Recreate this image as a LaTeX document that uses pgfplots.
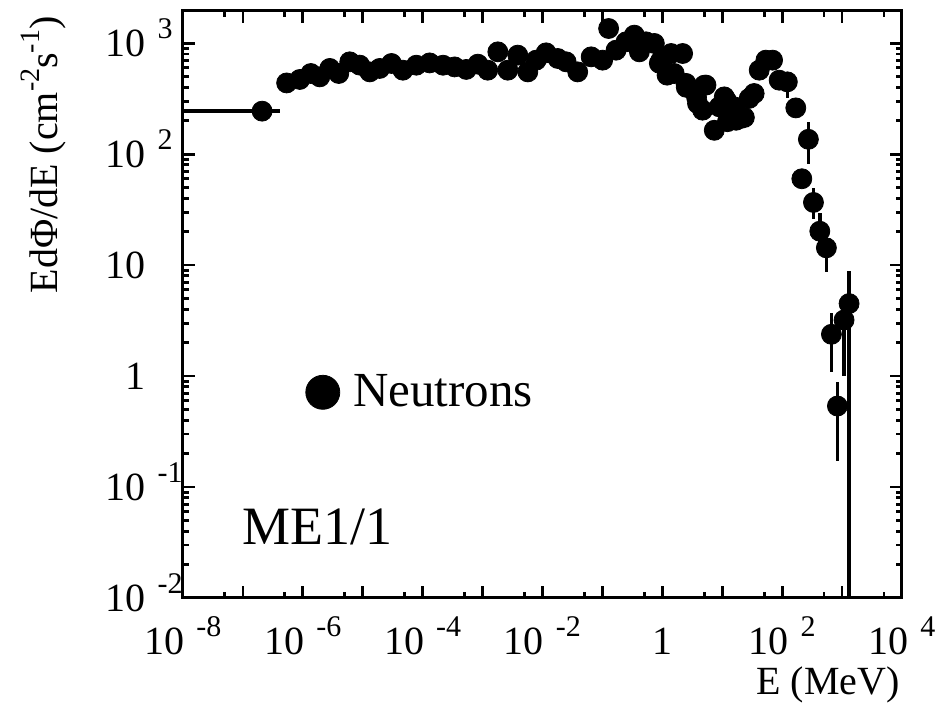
\documentclass[border=0pt]{standalone}
\usepackage{fontspec}
\setmainfont{Liberation Serif}
\usepackage{pgfplots}
\usepackage{pgfplotstable}
\pgfplotsset{compat=1.18}
\newcommand{\tpx}[1]{10\hspace{0.3em}\raisebox{0.45em}{\fontsize{15}{15}\selectfont #1}}
\newcommand{\tpy}[1]{10\smash{\rlap{\hspace{0.3em}\raisebox{0.45em}{\fontsize{15}{15}\selectfont #1}}}}
\newcommand{\sups}[1]{\raisebox{0.45em}{\fontsize{14}{14}\selectfont #1}}

\pgfplotstableread{
x y ep em xp xm
2.09e-7 244 0 0 2.0e-7 2.08e-7
5.37e-7 438 0 0 0 0
8.9e-7 471 0 0 0 0
1.36e-6 533 0 0 0 0
1.92e-6 497 0 0 0 0
2.82e-6 592 0 0 0 0
3.98e-6 533 0 0 0 0
6.07e-6 679 0 0 0 0
8.9e-6 634 0 0 0 0
1.31e-5 551 0 0 0 0
1.92e-5 592 0 0 0 0
3.02e-5 656 0 0 0 0
4.68e-5 571 0 0 0 0
7.85e-5 633 0 0 0 0
1.31e-4 664 0 0 0 0
2.19e-4 633 0 0 0 0
3.41e-4 611 0 0 0 0
5.35e-4 580 0 0 0 0
8.36e-4 647 0 0 0 0
1.22e-3 571 0 0 0 0
1.80e-3 835 0 0 0 0
2.64e-3 571 0 0 0 0
3.87e-3 780 0 0 0 0
5.69e-3 551 0 0 0 0
7.85e-3 703 0 0 0 0
1.15e-2 818 0 0 0 0
1.80e-2 728 0 0 0 0
2.48e-2 679 0 0 0 0
3.87e-2 551 0 0 0 0
6.49e-2 753 0 0 0 0
0.101 703 0 0 0 0
0.127 1356 0 0 0 0
0.169 865 0 0 0 0
0.248 1028 0 0 0 0
0.341 1181 0 0 0 0
0.414 835 0 0 0 0
0.535 1028 0 0 0 0
0.736 994 0 0 0 0
0.891 660 0 0 0 0
0.951 703 0 0 0 0
1.20 515 0 0 0 0
1.40 807 0 0 0 0
1.58 533 0 0 0 0
2.18 807 0 0 0 0
2.48 434 0 0 0 0
2.51 400 0 0 0 0
3.72 326 0 0 0 0
3.87 286 50 45 0 0
5.01 418 0 0 0 0
5.35 419 80 0 0 0
4.70 249 0 0 0 0
7.36 164 0 0 0 0
8.91 267 0 0 0 0
11.7 306 0 0 0 0
12.2 196 0 0 0 0
10.8 328 60 0 0 0
15.8 267 0 50 0 0
17.0 202 0 0 0 0
20.5 210 0 0 0 0
23.4 214 0 0 0 0
28.2 318 0 0 0 0
34.1 352 0 0 0 0
41.4 571 0 0 0 0
53.5 703 0 0 0 0
69.2 703 0 0 0 0
89.1 464 0 60 0 0
122 448 60 130 0 0
169 261 0 0 0 0
213 60 0 0 0 0
274 136 60 55 0 0
333 36.7 12.7 10.8 0 0
425 20.2 9.2 5 0 0
547 14.3 3 5.65 0 0
664 2.38 1.32 1.29 0 0
836 0.537 0.35 0.364 0 0
1079 3.2 0.35 2.2 0 0
1309 4.5 4.4 4.499 0 0
}\neutrons

\begin{document}
\begin{tikzpicture}
\useasboundingbox (-91.5pt,-53pt) rectangle (380pt,299pt);
\begin{axis}[
  at={(0pt,0pt)}, anchor=south west,
  scale only axis, width=359.5pt, height=293.5pt,
  xmode=log, ymode=log,
  xmin=1e-8, xmax=1e4, ymin=1e-2, ymax=1950,
  xtick={1e-8,1e-7,1e-6,1e-5,1e-4,1e-3,1e-2,1e-1,1,10,100,1000,1e4},
  xticklabels={\tpx{-8},,\tpx{-6},,\tpx{-4},,\tpx{-2},,1,,\tpx{2},,\tpx{4}},
  minor xtick={5e-8,5e-7,5e-6,5e-5,5e-4,5e-3,5e-2,5e-1,5,50,500,5000},
  ytick={1e-2,1e-1,1,10,100,1000},
  yticklabels={\tpy{-2},\tpy{-1},1,10,\tpy{2},\tpy{3}},
  minor ytick={0.02,0.03,0.04,0.05,0.06,0.07,0.08,0.09,
    0.2,0.3,0.4,0.5,0.6,0.7,0.8,0.9,
    2,3,4,5,6,7,8,9,
    20,30,40,50,60,70,80,90,
    200,300,400,500,600,700,800,900},
  tick align=inside,
  major tick length=6pt, minor tick length=3pt,
  tick style={black, line width=1.4pt},
  axis line style={line width=1.5pt},
  tick label style={font=\fontsize{20}{24}\selectfont},
  xticklabel style={anchor=base, yshift=-28.5pt},
  yticklabel style={anchor=east, inner sep=0pt, xshift=-18.5pt},
  xlabel={E (MeV)},
  xlabel style={at={(axis description cs:1,0)}, anchor=base east, inner sep=0pt, yshift=-48.5pt, xshift=-1pt, font=\fontsize{20}{24}\selectfont},
  ylabel={EdΦ/dE (cm\sups{-2}s\sups{-1})},
  ylabel style={at={(axis description cs:-0.1739,0.9915)}, anchor=base east, inner sep=0pt, font=\fontsize{20}{24}\selectfont},
  legend style={at={(rel axis cs:0.1697,0.3504)}, anchor=west, draw=none, fill=none,
    inner sep=0pt, column sep=6.5pt, nodes={inner sep=0pt},
    font=\fontsize{24.5}{29}\selectfont},
  legend cell align=left,
  clip=true,
]
\addplot[only marks, mark=*, mark size=5pt, black, forget plot,
  error bars/.cd, x dir=both, x explicit, y dir=both, y explicit,
  error mark=none, error bar style={line width=1.8pt, black}]
  table[x=x, y=y, x error plus=xp, x error minus=xm, y error plus=ep, y error minus=em] {\neutrons};
\addlegendimage{legend image code/.code={\fill[black] (8.5pt,0pt) circle (8.5pt);}}
\addlegendentry{Neutrons}
\node[anchor=base west, inner sep=0pt, font=\fontsize{27}{32}\selectfont] at (rel axis cs:0.0821,0.0912) {ME1/1};
\end{axis}
\end{tikzpicture}
\end{document}
